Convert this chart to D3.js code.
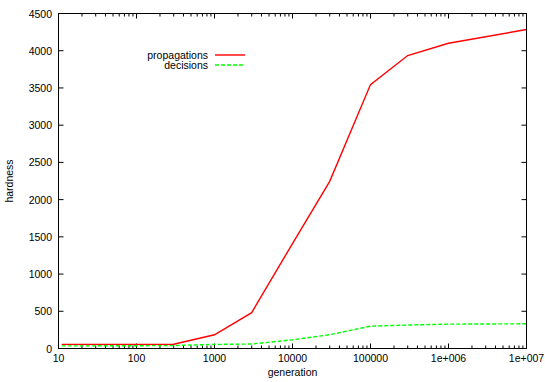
<!DOCTYPE html>
<html>
<head>
    <meta charset="utf-8">
    <style>
        html, body { margin: 0; background-color: white; }
        text {
            font-family: "Liberation Sans", Arial, sans-serif;
            font-size: 10.5px;
            fill: #000;
        }
    </style>
</head>
<body>
    <svg id="chart" width="545" height="382"></svg>

    <script src="https://d3js.org/d3.v7.min.js"></script>

    <script>
        // values
        var generations = [11, 100, 300, 1000, 3000, 10000, 30000, 100000, 300000, 1000000, 10000000];
        var propagations = [55, 55, 57, 184, 482, 1410, 2245, 3545, 3935, 4100, 4285];
        var decisions = [35, 37, 40, 55, 60, 117, 185, 300, 315, 327, 332];
        var yTicks = [0, 500, 1000, 1500, 2000, 2500, 3000, 3500, 4000, 4500];
        var xTicks = [10, 100, 1000, 10000, 100000, 1000000, 10000000];
        var xTickLabels = ["10", "100", "1000", "10000", "100000", "1e+006", "1e+007"];

        var svg = d3.select("#chart"),
            plotL = 58.5, plotR = 526.5, plotT = 13.5, plotB = 348.5;

        var x = d3.scaleLog().domain([10, 10000000]).range([plotL, plotR]);
        var y = d3.scaleLinear().domain([0, 4500]).range([plotB, plotT]);

        // minor ticks on log axis
        var minor = [];
        for (var d = 10; d < 10000000; d *= 10) {
            for (var k = 2; k <= 9; k++) minor.push(d * k);
        }

        var axes = svg.append("g").attr("stroke", "#000").attr("stroke-width", 1);

        // y ticks, left and right
        yTicks.forEach(function(v) {
            axes.append("line").attr("x1", plotL).attr("x2", plotL + 5).attr("y1", y(v)).attr("y2", y(v));
            axes.append("line").attr("x1", plotR).attr("x2", plotR - 5).attr("y1", y(v)).attr("y2", y(v));
        });
        // x major ticks, bottom and top
        xTicks.forEach(function(v) {
            axes.append("line").attr("x1", x(v)).attr("x2", x(v)).attr("y1", plotB).attr("y2", plotB - 5);
            axes.append("line").attr("x1", x(v)).attr("x2", x(v)).attr("y1", plotT).attr("y2", plotT + 5);
        });
        minor.forEach(function(v) {
            axes.append("line").attr("x1", x(v)).attr("x2", x(v)).attr("y1", plotB).attr("y2", plotB - 3);
            axes.append("line").attr("x1", x(v)).attr("x2", x(v)).attr("y1", plotT).attr("y2", plotT + 3);
        });

        // tick labels
        svg.append("g").selectAll("text")
            .data(yTicks)
            .enter().append("text")
            .attr("x", 52)
            .attr("y", function(d) { return y(d) + 4; })
            .attr("text-anchor", "end")
            .text(function(d) { return d; });

        svg.append("g").selectAll("text")
            .data(xTicks)
            .enter().append("text")
            .attr("x", function(d) { return x(d); })
            .attr("y", 362)
            .attr("text-anchor", "middle")
            .text(function(d, i) { return xTickLabels[i]; });

        svg.append("text")
            .attr("x", (plotL + plotR) / 2)
            .attr("y", 376)
            .attr("text-anchor", "middle")
            .text("generation");

        svg.append("text")
            .attr("transform", "translate(13," + ((plotT + plotB) / 2) + ") rotate(-90)")
            .attr("text-anchor", "middle")
            .text("hardness");

        // series
        var line = d3.line()
            .x(function(d) { return x(d[0]); })
            .y(function(d) { return y(d[1]); });

        svg.append("path")
            .datum(d3.zip(generations, decisions))
            .attr("fill", "none")
            .attr("stroke", "#00ff00")
            .attr("stroke-width", 1.4)
            .attr("stroke-dasharray", "4,2")
            .attr("d", line);

        svg.append("path")
            .datum(d3.zip(generations, propagations))
            .attr("fill", "none")
            .attr("stroke", "#ff0000")
            .attr("stroke-width", 1.4)
            .attr("d", line);

        // legend
        var legend = [
            { name: "propagations", color: "#ff0000", dash: null },
            { name: "decisions", color: "#00ff00", dash: "4,2" }
        ];
        var lg = svg.append("g").selectAll("g")
            .data(legend)
            .enter().append("g")
            .attr("transform", function(d, i) { return "translate(0," + (55 + i * 10) + ")"; });
        lg.append("text")
            .attr("x", 208)
            .attr("y", 4)
            .attr("text-anchor", "end")
            .text(function(d) { return d.name; });
        lg.append("line")
            .attr("x1", 215).attr("x2", 245)
            .attr("y1", 0).attr("y2", 0)
            .attr("stroke", function(d) { return d.color; })
            .attr("stroke-width", 1.4)
            .attr("stroke-dasharray", function(d) { return d.dash; });

        // frame
        svg.append("rect")
            .attr("x", plotL).attr("y", plotT)
            .attr("width", plotR - plotL).attr("height", plotB - plotT)
            .attr("fill", "none")
            .attr("stroke", "#000");
    </script>
</body>
</html>
